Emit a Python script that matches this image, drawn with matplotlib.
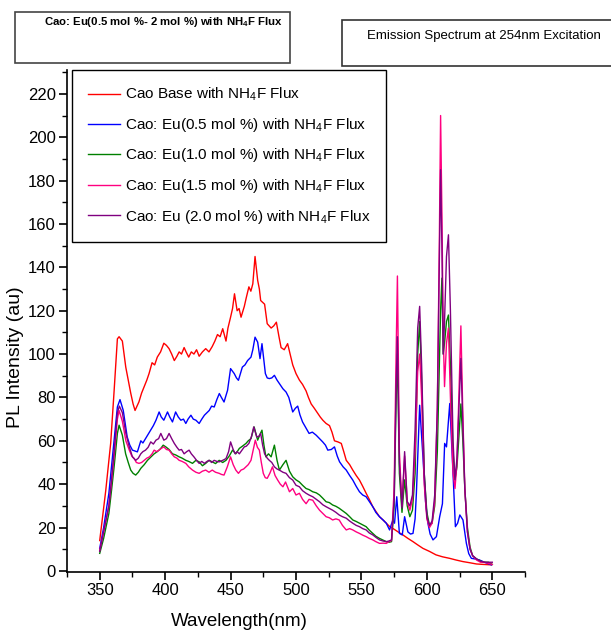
import matplotlib
matplotlib.use("Agg")
import matplotlib.pyplot as plt
from matplotlib.patches import Rectangle
from matplotlib.ticker import MultipleLocator

plt.rcParams['font.family'] = ['Liberation Sans', 'DejaVu Sans']
plt.rcParams['mathtext.fontset'] = 'custom'
plt.rcParams['mathtext.rm'] = 'Liberation Sans'
plt.rcParams['mathtext.default'] = 'regular'

# ---- data ----
labels = [
    "Cao Base with NH$_4$F Flux",
    "Cao: Eu(0.5 mol %) with NH$_4$F Flux",
    "Cao: Eu(1.0 mol %) with NH$_4$F Flux",
    "Cao: Eu(1.5 mol %) with NH$_4$F Flux",
    "Cao: Eu (2.0 mol %) with NH$_4$F Flux",
]
colors = ["#ff0000", "#0000ff", "#008000", "#ff0080", "#800080"]

wl_red = [350, 352, 354.6, 356.5, 358.4, 361, 363.5, 364.8, 367.3, 369.9, 371.8, 373.7, 375.5, 377, 380,
          382, 384, 386, 387.7, 390, 392, 394, 396.5, 399, 401, 403, 405, 407, 409, 410.7, 412.5, 414.5,
          416, 418, 420, 422, 424, 426, 428.5, 431, 433.5, 436, 438, 440, 442, 444, 446.5, 448, 450,
          451.5, 453, 455, 456.5, 458, 460.5, 462, 464, 465.5, 467, 468.7, 470.7, 472, 473, 476, 478,
          481, 483, 485, 487, 488.6, 491, 493.6, 495.5, 497.5, 500, 502.6, 505, 507.7, 509.5, 511.6,
          514, 516.7, 518.5, 520.5, 523, 525.6, 527.5, 529.4, 532, 534.6, 536.5, 538.4, 541, 543.4,
          546, 548.5, 551, 553.6, 556, 558.7, 561, 563.8, 566.5, 569, 571.5, 574, 578, 581.7, 585.5,
          589.4, 593, 597, 602, 607, 612, 617.4, 622.5, 627.6, 632.5, 637.9, 643, 649.3]
pl_red = [14, 24, 37, 48, 59, 83, 107, 108, 106, 94, 88, 82, 77, 74, 78,
          82, 85, 88, 91, 96, 95, 98.6, 101, 105, 104, 102.5, 100, 97, 99, 101, 100, 103,
          101, 98.6, 101, 100, 102, 99, 101, 102.5, 101, 103.5, 106, 109, 108, 111.7, 106, 112, 117,
          121, 127.8, 120, 121, 117, 122, 126, 131, 129, 132.4, 145, 134, 130, 124.7, 123, 114,
          112, 113, 114.7, 108, 103, 102, 104.8, 100, 95, 91, 88, 86, 83, 80, 77,
          75, 72.6, 71, 69.5, 68, 67, 64, 60, 59.5, 58.8, 55, 51, 49, 46.5,
          44, 41.9, 39, 35.8, 33, 29.6, 27.5, 25, 23.5, 22, 20.5, 19.6, 18, 16.6, 15,
          13.5, 12, 10.4, 9, 7.4, 6.5, 5.8, 5, 4.3, 3.8, 3.2, 3, 2.8]

wl_blue = [350, 353, 357, 359, 361, 363.5, 365.5, 368, 371, 373, 375, 378.8, 381.4, 383, 385, 387, 389,
           391, 393, 395.4, 397, 399, 401.8, 403.5, 405.6, 408, 410, 412, 414, 415.8, 417.5, 419.7,
           421.5, 423.5, 426, 428, 430, 432, 433.7, 435.5, 437.5, 439.5, 441.4, 443, 445, 447.7, 450,
           452.8, 454.5, 456, 457.5, 459, 461, 463, 465.6, 467, 468.7, 470.7, 472.5, 474, 476.6, 478,
           479.6, 481.5, 483.5, 485.5, 487.3, 490, 492.4, 494.5, 497.5, 499.5, 501.3, 503, 505, 507.5,
           510, 512.5, 515.4, 518, 520.4, 522.5, 524.3, 527, 529.4, 531.5, 533.3, 536, 538.4, 541,
           543.4, 546, 548.5, 551, 553.6, 556, 558.7, 561, 563.8, 566.5, 569, 571.5, 574, 575.3, 577,
           579, 581.2, 583, 585.5, 587.5, 589.4, 591, 592, 594.5, 597, 599, 600.8, 602.5, 604.7, 607.3,
           609.8, 611.9, 613.6, 615, 617.5, 620, 621.8, 623.5, 625.2, 627.6, 630.2, 632, 634, 637,
           640, 644, 649.3]
pl_blue = [10.4, 20, 35.8, 48, 60, 75.6, 79, 74, 61.8, 58, 55.7, 54.9, 60, 59, 61, 63, 65,
           67, 69.5, 73.3, 71, 69.5, 73.3, 71, 68.7, 73.3, 71, 69.5, 70, 68, 70, 71.8,
           70, 69.5, 68, 70, 71.8, 73, 74, 76, 75.6, 79, 81.8, 80, 77.9, 83.3, 93.3,
           91, 89, 87.9, 91, 94, 95, 97, 98.6, 102, 107.8, 105.5, 97.9, 104.8, 91, 89,
           88.7, 89, 90.2, 88, 86.4, 84, 82.5, 80, 73.3, 75, 76, 72, 68.7, 66,
           63.4, 64, 62.6, 61, 59.5, 58, 55.7, 56, 57.2, 53, 50.3, 48, 46.5, 44,
           41.9, 39, 36.5, 35, 34.2, 32, 29.6, 27, 25, 23.5, 22, 18.9, 23.5, 22, 34.2,
           17.3, 16.6, 25, 18, 17, 17.3, 24, 35.8, 76.4, 52.6, 32, 22, 17, 14.3, 15.8,
           25, 31, 58.8, 57.2, 77.2, 45, 20.4, 22, 25.8, 23.5, 12.7, 8, 5.8, 5.5,
           5.1, 4, 2.8]

wl_green = [350, 353, 357, 359, 361, 363.5, 364.8, 367.3, 369.8, 371.8, 373.7, 375.5, 377.5, 379.5, 381.4,
            384, 386.5, 389, 391.6, 394, 396.7, 398.5, 400.5, 403, 405.6, 408, 410.7, 413, 415.8, 418,
            420.9, 423.5, 426, 428.5, 431, 433.5, 436, 438.5, 441.3, 444, 446.5, 449, 451.5, 454, 456.7,
            459, 461.8, 463.5, 465.6, 468, 470.7, 472.5, 474, 475.5, 477, 479, 481, 483.5, 485.5, 487.3,
            490, 492.4, 495, 497.5, 500, 502.6, 505, 507.7, 510, 512.8, 515.5, 518, 520.5, 523, 525.5,
            528, 530.5, 533, 535.5, 538.4, 541, 543.4, 546, 548.5, 551, 553.6, 556, 558.7, 561, 563.8,
            566.5, 569, 571, 573,
            575, 576.5, 577.5, 579, 581, 583, 585, 587, 589, 591, 593, 594.5, 596, 598, 600, 602, 604,
            606, 608, 609.5, 610.5, 611.5, 612.5, 613.5, 615, 616.5, 618, 620, 621.5, 623, 624.5, 626,
            627.5, 629, 631, 633, 635, 638, 641, 644, 647, 650]
pl_green = [8.1, 15, 26.5, 37, 48, 63.4, 67.2, 62.6, 54, 50, 46.5, 45, 44.2, 45.5, 47.3,
            49, 51, 52.5, 54, 55, 56.5, 58, 57.2, 56, 54, 53.5, 52.6, 52, 51, 50.5,
            49.6, 51, 50.3, 48.5, 49.6, 51, 50.3, 49.5, 51, 50, 51, 53, 55.7, 54, 56.5,
            57.5, 58.8, 60, 61, 66.4, 60.3, 63, 64.9, 58, 52.6, 54, 52.6, 58, 51, 46.5,
            49, 51, 46, 43.4, 42, 41, 39.5, 38, 37.5, 36.5, 36, 35, 33.5, 31.9, 31.5,
            30.4, 29.8, 28.9, 27.8, 26.5, 25, 23.5, 22.8, 22, 21.2, 20.4, 18.8, 17.3, 16, 15,
            14.2, 13.5, 13.2, 13.5,
            30, 78, 100, 45, 27, 42, 30, 25, 28, 45, 100, 115, 88, 45, 27, 21, 22,
            30, 55, 95, 120, 135, 100, 105, 115, 118, 95, 55, 42, 48, 62, 77,
            60, 38, 20, 11, 7, 5.5, 4.5, 4, 4, 3]

wl_pink = [350, 353, 357, 359, 361, 363.5, 364.8, 367.3, 370, 372.6, 374.5, 376.4, 378, 380, 382, 384,
           386, 388, 390, 391.6, 393.5, 395.4, 397, 399, 401, 403, 405, 407, 409, 410.7, 413, 415.8,
           418, 420.9, 423.5, 426, 428.5, 431, 433.5, 436, 438.5, 441.3, 443, 445, 447.5, 450, 452,
           454, 456, 458, 460, 461.8, 463.5, 465.6, 467, 468.9, 470.5, 472, 473.5, 475, 476.5, 478,
           480, 482, 484, 486, 488, 490, 492, 495, 497.5, 500, 502.6, 505, 507.7, 510, 512.8, 515.5,
           518, 520.5, 523, 525.5, 528, 530.5, 533, 535.5, 538.4, 541, 543.4, 546, 548.5, 551, 553.6,
           556, 558.7, 561, 563.8, 566.5, 569, 571, 573,
           575, 576.5, 577.5, 579, 581, 583, 585, 587, 589, 591, 593, 594.5, 596, 598, 600, 602, 604,
           606, 608, 609.5, 610.5, 611.5, 612.5, 613.5, 615, 616.5, 618, 620, 621.5, 623, 624.5, 626,
           627.5, 629, 631, 633, 635, 638, 641, 644, 647, 650]
pl_pink = [9.5, 18, 30, 41, 53, 70, 74, 69, 60, 55.7, 53, 51.8, 50, 49.6, 50, 51,
           52, 52.6, 54, 55.7, 55, 55.7, 56.5, 57.2, 56, 55.7, 54, 52.6, 52, 51, 50.5, 49.6,
           48, 46.5, 45.5, 45, 46, 46.5, 45.5, 46.5, 45.5, 45, 44.5, 44.2, 48, 52.6, 49,
           46.5, 45, 46.5, 47, 48, 49, 51, 55, 60.3, 57, 55.7, 50, 45, 43, 42.7,
           45, 48, 44, 41.9, 40, 38.8, 41, 36.5, 38, 35, 35.8, 33, 31, 33, 32.6, 30,
           28, 26.5, 25, 24.5, 23.5, 24, 23.5, 21, 18.9, 19.5, 18.9, 18, 17.3, 16.5, 15.8,
           15, 14.3, 13.5, 12.7, 12.8, 12.7, 13.5, 14,
           38, 100, 136, 55, 30, 53, 32, 28, 33, 55, 92, 100, 80, 40, 24, 20, 22,
           32, 75, 150, 210, 165, 110, 85, 105, 112, 80, 45, 38, 50, 82, 113,
           72, 38, 18, 10, 7, 5, 4, 4, 3.5, 3]

wl_purple = [350, 353, 357, 359, 361, 363.5, 365, 367.3, 370, 372.6, 375, 377.5, 379.5, 381.4, 383, 385,
             387, 389, 391, 393, 395, 396.7, 399, 401, 403, 405, 407, 409, 410.7, 412.5, 414.5, 416.5,
             418.3, 420, 422, 424, 426, 428, 430, 432, 433.7, 435.5, 437.5, 439.5, 441.3, 444, 446.5,
             448.5, 450, 452, 453.5, 455, 456.7, 458.5, 460.5, 462, 464, 466, 467.7, 470, 471.5, 473,
             474.5, 476, 478, 479.6, 481.5, 483.5, 485.5, 487.3, 490, 492.4, 495, 497.5, 500, 502.6,
             505, 507.7, 510, 512.8, 515.5, 518, 520.5, 523, 525.5, 528, 530.5, 533, 535.5, 538.4,
             541, 543.4, 546, 548.5, 551, 553.6, 556, 558.7, 561, 563.8, 566.5, 569, 571, 573,
             575, 576.5, 577.5, 579, 581, 583, 585, 587, 589, 591, 593, 594.5, 596, 598, 600, 602, 604,
             606, 608, 609.5, 610.5, 611.5, 612.5, 613.5, 615, 616.5, 618, 620, 621.5, 623, 624.5, 626,
             627.5, 629, 631, 633, 635, 638, 641, 644, 647, 650]
pl_purple = [9, 18, 30, 42, 55, 73, 76, 73, 63.4, 57.2, 52.6, 51, 52, 54, 55, 55.7,
             57, 59.5, 58.5, 60.3, 61, 63.4, 60.3, 61, 63.4, 61, 58.8, 57, 55.7, 56, 54, 55,
             55.7, 54, 52.6, 51, 49.6, 50.5, 49.6, 50.5, 51, 50, 51, 50.5, 50.3, 51, 51.8,
             55, 59.5, 56, 54, 55, 54, 55.5, 57.2, 57.5, 58.8, 62, 66.4, 61.8, 62, 63.4,
             58, 54, 52, 51, 50, 48, 47, 46.5, 45.5, 45, 43, 41.9, 39.5, 38.8,
             37, 35.8, 35, 34.2, 33, 31.9, 30.5, 29.6, 28.8, 28, 27, 25.8, 25, 24.3,
             23, 22, 21, 20.4, 19.5, 18.9, 17.5, 16.6, 15.5, 14.3, 13.8, 13.5, 13.8, 14.3,
             33, 85, 108, 50, 29, 55, 32, 30, 35, 65, 112, 122, 95, 45, 25, 21, 23,
             35, 75, 140, 185, 150, 100, 115, 145, 155, 120, 60, 42, 52, 75, 98,
             68, 38, 18, 10, 7, 5.5, 4.5, 4, 4, 4]

x_ticks = [350, 400, 450, 500, 550, 600, 650]
y_ticks = [0, 20, 40, 60, 80, 100, 120, 140, 160, 180, 200, 220]

# ---- figure ----
W, H = 611, 634
fig = plt.figure(figsize=(W / 100, H / 100), dpi=100)
ax = fig.add_axes([67 / W, 1 - 572 / H, (525 - 67) / W, (572 - 70) / H])

series = [(wl_red, pl_red), (wl_blue, pl_blue), (wl_green, pl_green),
          (wl_pink, pl_pink), (wl_purple, pl_purple)]
for (wl, pl), c, lab in zip(series, colors, labels):
    ax.plot(wl, pl, color=c, lw=1.0, label=lab)

ax.set_xlim(325, 675)
ax.set_ylim(-0.5, 231)
ax.set_xticks(x_ticks)
ax.set_yticks(y_ticks)
ax.xaxis.set_minor_locator(MultipleLocator(25))
ax.yaxis.set_minor_locator(MultipleLocator(10))
ax.spines['top'].set_visible(False)
ax.spines['right'].set_visible(False)
for s in ('left', 'bottom'):
    ax.spines[s].set_linewidth(1.2)
ax.tick_params(which='major', direction='out', length=6, width=1.2, labelsize=12, pad=2)
ax.tick_params(which='minor', direction='out', length=3.5, width=1.0)

fig.text(16 / W, 1 - 357 / H, "PL Intensity (au)", rotation=90, fontsize=14,
         ha='center', va='center')
fig.text(239 / W, 1 - 621 / H, "Wavelength(nm)", fontsize=13.5, ha='center', va='center')

leg = ax.legend(loc='upper left', bbox_to_anchor=(72 / W, 1 - 70 / H),
                bbox_transform=fig.transFigure, borderaxespad=0, fontsize=11,
                frameon=True, fancybox=False, edgecolor='black', framealpha=1,
                handlelength=2.1, handletextpad=0.3, labelspacing=0.82, borderpad=1.05)
leg.get_frame().set_linewidth(1.0)

# title boxes
fig.patches.append(Rectangle((15 / W, 1 - 63 / H), 275 / W, 51 / H, transform=fig.transFigure,
                             facecolor='white', edgecolor='#444444', lw=1.2))
fig.patches.append(Rectangle((342 / W, 1 - 66 / H), 280 / W, 46 / H, transform=fig.transFigure,
                             facecolor='white', edgecolor='#333333', lw=1.2))
fig.text(163 / W, 1 - 22 / H, "Cao: Eu(0.5 mol %- 2 mol %) with NH$_4$F Flux",
         fontsize=8.2, fontweight='bold', ha='center', va='center')
fig.text(484 / W, 1 - 36 / H, "Emission Spectrum at 254nm Excitation",
         fontsize=9.5, ha='center', va='center')

fig.savefig("out.png", dpi=100)
